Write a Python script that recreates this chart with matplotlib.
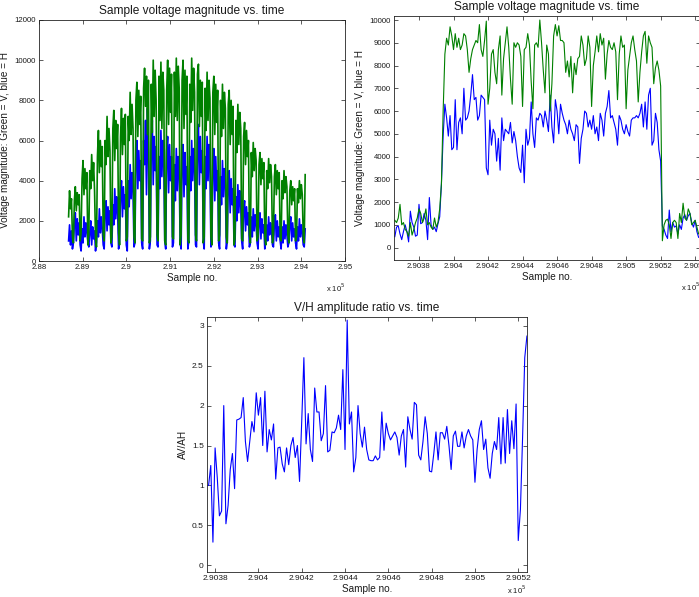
import matplotlib
matplotlib.use("Agg")
import matplotlib.pyplot as plt
import numpy as np
from matplotlib.ticker import FuncFormatter, MultipleLocator

plt.rcParams['font.family'] = ['Liberation Sans', 'DejaVu Sans']

# ---- data -------------------------------------------------------------
# full record (top left), one value every tl_step samples, in hundreds
tl_start = 288677
tl_step = 22
tl_green = [
    22, 35, 26, 31,
    12, 9, 30, 37, 25, 34, 28, 33,
    10, 14, 41, 50, 33, 46, 36, 44,
    8, 13, 45, 36, 53, 40, 49, 35,
    11, 7, 52, 65, 44, 60, 47, 57,
    13, 10, 60, 48, 72, 52, 66, 55,
    9, 12, 66, 75, 50, 70, 56, 68,
    14, 8, 62, 76, 53, 71, 58, 73,
    10, 12, 72, 60, 84, 63, 78, 66,
    12, 9, 80, 89, 62, 85, 68, 82,
    11, 10, 86, 96, 77, 92, 63, 90,
    9, 12, 88, 64, 100, 72, 95, 80,
    13, 10, 92, 70, 99, 66, 94, 85,
    10, 8, 85, 100, 68, 96, 74, 93,
    12, 11, 94, 72, 101, 70, 97, 86,
    8, 13, 90, 100, 66, 95, 73, 92,
    11, 9, 88, 69, 101, 75, 96, 84,
    13, 10, 93, 98, 67, 90, 72, 89,
    9, 12, 86, 65, 94, 70, 90, 81,
    12, 8, 84, 92, 63, 88, 69, 85,
    10, 13, 80, 62, 88, 66, 84, 76,
    12, 9, 78, 85, 58, 80, 63, 77,
    8, 11, 70, 54, 78, 58, 74, 66,
    11, 10, 62, 69, 48, 65, 52, 60,
    13, 9, 54, 42, 59, 45, 56, 50,
    10, 12, 48, 54, 38, 51, 41, 49,
    12, 8, 45, 36, 51, 39, 48, 42,
    9, 13, 42, 48, 33, 45, 36, 44,
    11, 10, 40, 31, 45, 34, 42, 37,
    13, 9, 35, 40, 28, 37, 30, 36,
    10, 12, 36, 29, 40, 31, 38, 33,
    12, 9, 43,
]
tl_blue = [
    10, 18, 8, 15,
    6, 9, 18, 24, 10, 21, 13, 19,
    8, 5, 16, 9, 22, 12, 19, 14,
    10, 7, 14, 20, 8, 17, 11, 15,
    5, 9, 20, 12, 26, 14, 22, 16,
    8, 6, 24, 30, 15, 27, 18, 25,
    9, 7, 28, 18, 36, 21, 32, 24,
    6, 10, 34, 40, 22, 37, 26, 33,
    8, 5, 40, 27, 48, 31, 44, 35,
    7, 9, 52, 60, 36, 55, 40, 50,
    9, 6, 60, 48, 70, 33, 76, 55,
    6, 10, 58, 70, 38, 62, 45, 57,
    8, 7, 52, 36, 65, 42, 60, 48,
    10, 6, 55, 62, 34, 58, 40, 52,
    7, 9, 48, 30, 56, 35, 52, 44,
    9, 6, 50, 58, 32, 54, 38, 47,
    6, 10, 52, 35, 60, 40, 56, 45,
    8, 7, 58, 68, 38, 62, 44, 55,
    10, 6, 52, 36, 62, 40, 58, 47,
    7, 9, 48, 56, 30, 52, 35, 45,
    9, 6, 42, 28, 50, 32, 46, 38,
    6, 10, 38, 45, 24, 41, 28, 36,
    8, 7, 32, 20, 38, 24, 35, 28,
    10, 6, 26, 30, 15, 27, 18, 24,
    7, 9, 22, 12, 26, 15, 23, 18,
    9, 6, 20, 24, 11, 21, 14, 18,
    6, 10, 18, 10, 22, 13, 19, 15,
    8, 7, 19, 23, 10, 20, 12, 17,
    10, 6, 17, 9, 20, 11, 18, 13,
    7, 9, 18, 22, 10, 19, 12, 16,
    9, 6, 17, 10, 21, 12, 18, 14,
    8, 7, 16,
]

# one burst (top right), every sample
tr_start = 290366
tr_green = [
    1200, 1100, 1300, 1900, 1000, 1100, 800, 700, 500, 1100,
    550, 800, 1100, 1300, 1700, 1500, 1100, 1300, 1700, 1000,
    1100, 900, 800, 1300, 900, 1100, 1700, 2800, 6000, 8500,
    9200, 8900, 9700, 9300, 8700, 9400, 8800, 9200, 8700, 8900,
    9400, 9300, 8700, 7700, 8300, 8700, 8900, 9100, 9000, 9800,
    8700, 8400, 9100, 9950, 6300, 7000, 8500, 8700, 7700, 7200,
    8700, 9300, 6700, 8300, 9000, 9700, 8800, 7400, 6300, 9000,
    8800, 9000, 8900, 8400, 6200, 8700, 8800, 9400, 8900, 7300,
    6100, 8900, 9000, 8800, 10000, 9000, 7800, 6800, 8900, 8500,
    6000, 7200, 9300, 9800, 9300, 9750, 9100, 9100, 9000, 7700,
    8200, 7500, 8400, 6800, 8100, 7600, 8300, 8400, 9300, 8900,
    8000, 8300, 9300, 8800, 6200, 8000, 8600, 9300, 8600, 9400,
    8900, 9200, 7400, 8500, 9100, 8800, 8700, 9000, 8600, 6500,
    8500, 9300, 8800, 8900, 6100, 7800, 8400, 9000, 9300, 8700,
    8200, 6400, 7700, 8600, 9300, 9500, 8100, 9300, 9000, 8800,
    7200, 7900, 8200, 7800, 7100, 300, 1000, 1200, 1250, 1000,
    400, 1100, 1200, 1100, 400, 1500, 1100, 1950, 1300, 1200,
    1700, 1500, 1000, 1100, 1200, 900, 600,
]
tr_blue = [
    480, 900, 950, 600, 350, 700, 1000, 700, 250, 1600,
    1100, 900, 500, 550, 1900, 1050, 1100, 1500, 1200, 350,
    2200, 1000, 800, 900, 700, 1050, 1350, 2800, 4900, 6300,
    5700, 4900, 5800, 4300, 4400, 6500, 4300, 5500, 5700, 5000,
    7000, 5600, 5700, 6000, 6700, 7600, 6500, 6600, 5600, 5800,
    6700, 6600, 6500, 3500, 3200, 5600, 4500, 5200, 5000, 3800,
    4800, 3400, 5700, 4700, 5200, 5100, 5000, 5500, 4600, 5100,
    4700, 4000, 3500, 3300, 4500, 2850, 5200, 4500, 4800, 6400,
    5000, 4400, 5700, 5600, 5900, 5800, 5300, 6000, 5600, 5100,
    6700, 5300, 4600, 6500, 6000, 5000, 6300, 5900, 5600, 5400,
    5000, 5600, 5200, 5000, 4700, 5400, 5300, 3700, 4800, 5200,
    6000, 5900, 5300, 5600, 5200, 5800, 5000, 5300, 4700, 5900,
    5600, 4900, 5900, 6200, 6900, 5700, 5800, 5500, 5200, 4500,
    5800, 5600, 5200, 5000, 5400, 5100, 4900, 5600, 5700, 5700,
    5800, 5700, 5900, 6300, 5300, 6400, 5200, 6700, 7000, 4500,
    4700, 5900, 5500, 4300, 3800, 950, 800, 550, 400, 1650,
    700, 1100, 900, 950, 600, 1000, 800, 1300, 1450, 1200,
    1400, 1500, 1100, 900, 1200, 700, 450,
]

# V/H ratio (bottom)
br_start = 290377
ratio = [
    1.0, 1.25, 0.29, 1.47, 1.1, 0.62, 0.68, 2.0, 0.52, 0.75,
    1.2, 1.4, 0.96, 1.82, 1.83, 1.85, 2.1, 1.55, 1.3, 1.55,
    1.8, 1.67, 2.16, 1.88, 2.1, 1.5, 2.18, 1.42, 1.7, 1.57,
    1.77, 1.08, 1.47, 1.48, 1.27, 1.17, 1.47, 1.26, 1.5, 1.6,
    1.35, 1.5, 1.05, 1.8, 2.6, 1.52, 1.9, 1.45, 1.3, 2.22,
    1.92, 1.92, 1.56, 1.65, 2.25, 1.42, 1.44, 1.67, 1.66, 1.72,
    1.88, 1.7, 2.45, 1.45, 3.07, 1.77, 1.92, 1.17, 1.35, 2.0,
    1.65, 1.48, 1.73, 1.45, 1.32, 1.31, 1.31, 1.37, 1.32, 1.35,
    1.92, 1.44, 1.78, 1.65, 1.57, 1.62, 1.67, 1.6, 1.38, 1.62,
    1.7, 1.23, 1.86, 1.7, 1.58, 2.04, 2.01, 1.38, 1.32, 1.55,
    1.86, 1.65, 1.18, 1.17, 1.4, 1.67, 1.32, 1.66, 1.66, 1.58,
    1.74, 1.5, 1.2, 1.62, 1.68, 1.49, 1.49, 1.67, 1.47, 1.62,
    1.7, 1.62, 1.57, 1.04, 1.45, 1.7, 1.81, 1.45, 1.58, 1.22,
    1.09, 1.4, 1.55, 1.45, 1.85, 1.27, 1.85, 1.28, 1.95, 1.4,
    1.81, 1.46, 2.02, 0.31, 0.7, 1.6, 2.6, 2.87,
]

GREEN = '#008000'
BLUE = '#0000ff'
TXT = '#1a1a1a'

W, H = 699, 597
fig = plt.figure(figsize=(W / 100, H / 100), dpi=100)


def box(l, t, r, b):
    return fig.add_axes([l / W, 1 - b / H, (r - l) / W, (b - t) / H])


sample_fmt = FuncFormatter(lambda v, p: f"{v / 1e5:.5g}")


def style(ax, title, ylabel, tick_fs, exp_y=-0.085, exp_va='top'):
    ax.set_title(title, fontsize=8.6, pad=4, color=TXT)
    ax.set_xlabel("Sample no.", fontsize=7.2, labelpad=1, color=TXT)
    ax.set_ylabel(ylabel, fontsize=7.2, labelpad=3, color=TXT)
    ax.tick_params(direction='in', top=True, right=True, length=3,
                   width=0.5, labelsize=tick_fs, pad=2.5, colors=TXT)
    for s in ax.spines.values():
        s.set_linewidth(0.6)
        s.set_color('#222222')
    ax.xaxis.set_major_formatter(sample_fmt)
    ax.text(1.0, exp_y, r"x 10$^5$", transform=ax.transAxes, fontsize=5.5,
            ha='right', va=exp_va, color=TXT, clip_on=False)


ylab = "Voltage magnitude: Green = V, blue = H"

# top left
ax1 = box(39, 20, 345, 261)
xs = tl_start + tl_step * np.arange(len(tl_green))
ax1.plot(xs, np.array(tl_blue) * 100, color=BLUE, lw=1.2)
ax1.plot(xs, np.array(tl_green) * 100, color=GREEN, lw=1.2)
ax1.set_xlim(288000, 295000)
ax1.set_ylim(0, 12000)
ax1.xaxis.set_major_locator(MultipleLocator(1000))
ax1.yaxis.set_major_locator(MultipleLocator(2000))
style(ax1, "Sample voltage magnitude vs. time", ylab, 5.6)

# top right
ax2 = box(394.3, 16, 700, 260)
xr = tr_start + np.arange(len(tr_green))
ax2.plot(xr, tr_blue, color=BLUE, lw=0.8)
ax2.plot(xr, tr_green, color=GREEN, lw=0.8)
ax2.set_xlim(290365.7, 290542.8)
ax2.set_ylim(-545, 10176)
ax2.set_xticks(np.arange(290380, 290541, 20))
ax2.yaxis.set_major_locator(MultipleLocator(1000))
style(ax2, "Sample voltage magnitude vs. time", ylab, 5.6)

# bottom
ax3 = box(207.3, 316.7, 526.7, 571.7)
xb = br_start + np.arange(len(ratio))
ax3.plot(xb, ratio, color=BLUE, lw=0.8)
ax3.set_xlim(290376.4, 290523.9)
ax3.set_ylim(-0.08, 3.113)
ax3.set_xticks(np.arange(290380, 290521, 20))
ax3.yaxis.set_major_locator(MultipleLocator(0.5))
ax3.yaxis.set_major_formatter(FuncFormatter(lambda v, p: f"{v:g}"))
style(ax3, "V/H amplitude ratio vs. time", "AV/AH", 6.0,
      exp_y=-0.097, exp_va='bottom')

fig.savefig("out.png", dpi=100)
